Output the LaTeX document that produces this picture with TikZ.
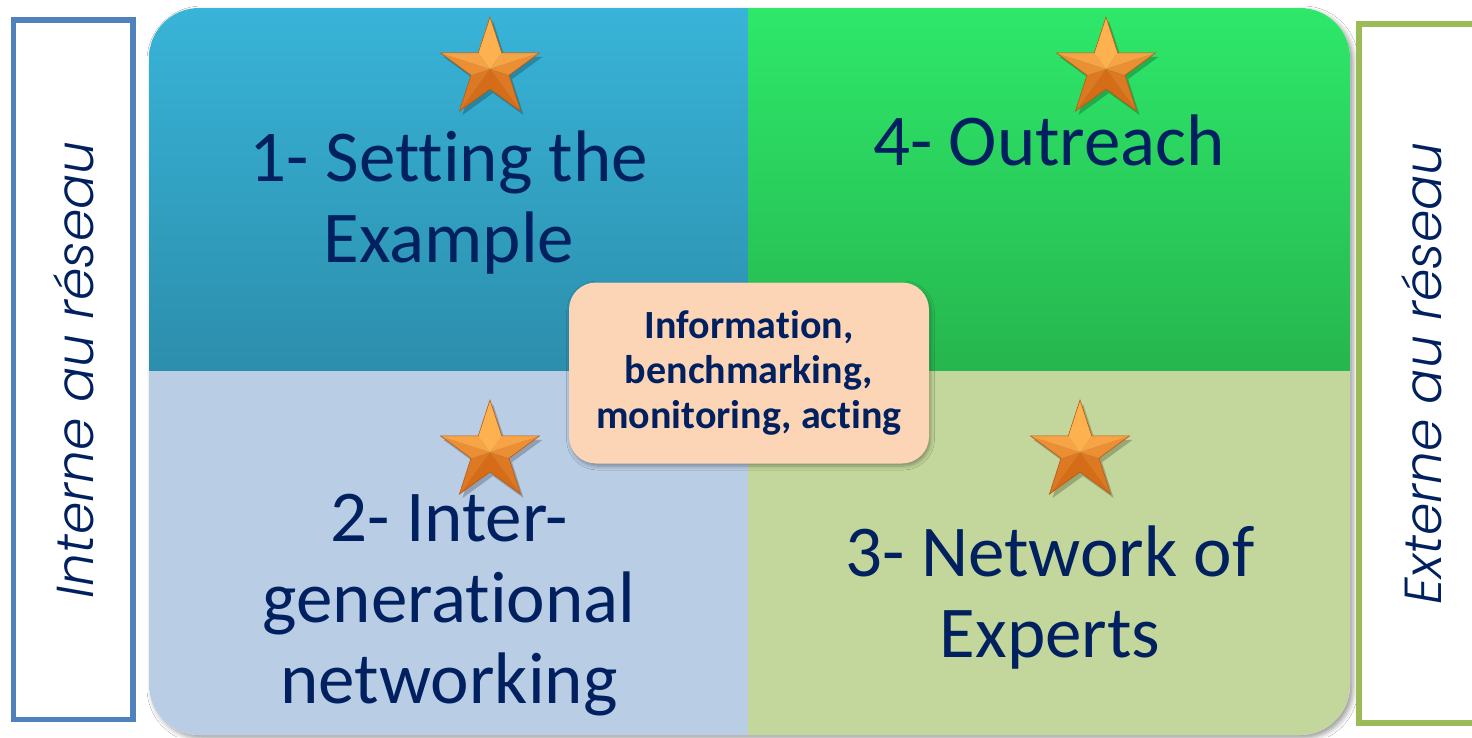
\documentclass[tikz,border=0pt]{standalone}
\usepackage{fontspec}
\setmainfont{Carlito}[Ligatures=NoCommon]
\newfontfamily\sidefont{Poppins}[UprightFont={* Light Italic}]
\usetikzlibrary{shadows.blur}
\definecolor{navy}{HTML}{002060}
\definecolor{sideblue}{HTML}{4F81BD}
\definecolor{sidegreen}{HTML}{9BBB59}
\definecolor{tltop}{RGB}{56,180,216}
\definecolor{tlbot}{RGB}{44,142,172}
\definecolor{trtop}{RGB}{46,232,106}
\definecolor{trbot}{RGB}{38,182,78}
\definecolor{blfill}{HTML}{B9CDE5}
\definecolor{brfill}{HTML}{C3D69B}
\definecolor{peach}{HTML}{FBD5B5}
\definecolor{starL}{HTML}{FFB451}
\definecolor{starD}{HTML}{D46A16}
\definecolor{starE}{HTML}{B85A14}
\newcommand\mystar[2]{%
  \begin{scope}[shift={(#1,#2)}]
    \fill[black,opacity=0.22,shift={(3,4)}] (-90:52)
      \foreach \k in {0,...,4} { -- ({-54+72*\k}:20) -- ({-18+72*\k}:52) } -- cycle;
    \foreach \k in {0,...,4} {
      \pgfmathsetmacro\aa{-90+72*\k}
      \pgfmathtruncatemacro\tl{100*(1-sin(\aa-18))/2}
      \pgfmathtruncatemacro\tr{100*(1-sin(\aa+18))/2}
      \fill[starL!\tl!starD] (0,0) -- ({\aa-36}:20) -- (\aa:52) -- cycle;
      \fill[starL!\tr!starD] (0,0) -- (\aa:52) -- ({\aa+36}:20) -- cycle;
    }
    \draw[starE,line width=0.6pt,line join=miter] (-90:52)
      \foreach \k in {0,...,4} { -- ({-54+72*\k}:20) -- ({-18+72*\k}:52) } -- cycle;
  \end{scope}}
\tikzset{
  mainlabel/.style={font=\fontsize{73}{81}\selectfont, text=navy, align=center, anchor=base, inner sep=0pt},
  sidebox/.style={draw=#1, line width=5.5pt, rotate=90, text=navy,
    font=\sidefont\fontsize{52}{60}\selectfont, inner sep=0pt},
  centerbox/.style={fill=peach, rounded corners=27pt, minimum width=360pt, minimum height=181pt,
    inner sep=0pt, align=center, text=navy, font=\bfseries\fontsize{40}{45}\selectfont,
    blur shadow={shadow xshift=1.5pt, shadow yshift=-2.5pt, shadow blur radius=4pt, shadow opacity=35}}
}
\begin{document}
\begin{tikzpicture}[x=1pt,y=-1pt]
\useasboundingbox (0,0) rectangle (1472,737);
\fill[white] (0,0) rectangle (1472,737);
% main block shadow
\path[fill=white, rounded corners=50pt,
  blur shadow={shadow xshift=3pt, shadow yshift=-3pt, shadow blur radius=5pt, shadow opacity=40}]
  (149,8) rectangle (1350,735);
\begin{scope}
  \clip[rounded corners=50pt] (149,8) rectangle (1350,735);
  \shade[top color=tltop, bottom color=tlbot] (149,8) rectangle (748,371);
  \shade[top color=trtop, bottom color=trbot] (748,8) rectangle (1350,371);
  \fill[blfill] (149,371) rectangle (748,735);
  \fill[brfill] (748,371) rectangle (1350,735);
\end{scope}
% side boxes
\node[sidebox=sideblue, minimum width=699.5pt, minimum height=119.5pt] (interne) at (73.25,369.75) {Interne au réseau};
\node[sidebox=sidegreen, minimum width=699pt, minimum height=126pt] (externe) at (1422,373.5) {Externe au réseau};
% stars
\mystar{490}{69}
\mystar{1106}{69}
\mystar{490}{452}
\mystar{1080}{452}
% labels (anchor base = last line baseline)
\node[mainlabel] (q1) at (449,262) {1- Setting the\\Example};
\node[mainlabel] (q4) at (1049,165) {4- Outreach};
\node[mainlabel] (q2) at (449,703) {2- Inter-\\generational\\networking};
\node[mainlabel] (q3) at (1050,657) {3- Network of\\Experts};
% center
\node[centerbox] (core) at (749,373) {Information,\\benchmarking,\\monitoring, acting};
\end{tikzpicture}
\end{document}
